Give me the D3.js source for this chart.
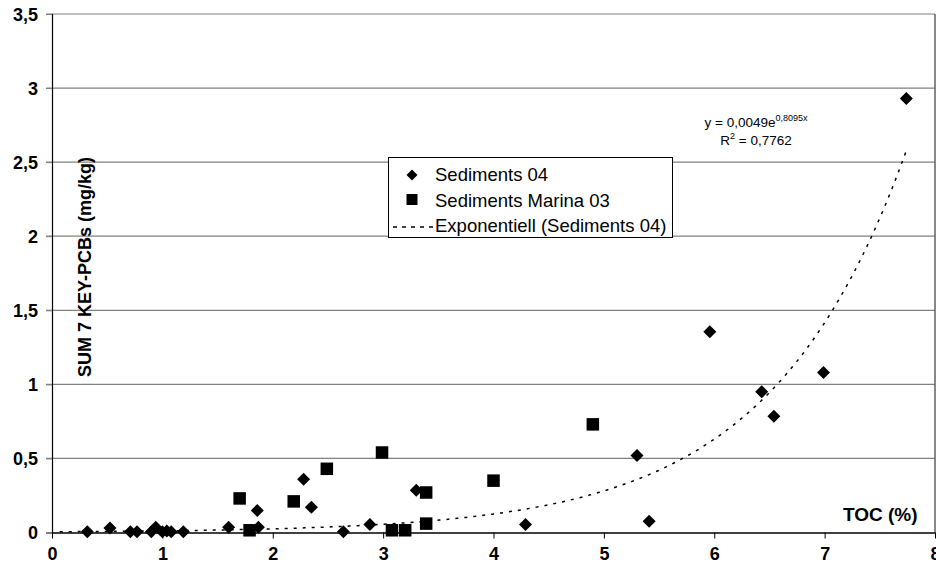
<!DOCTYPE html>
<html><head><meta charset="utf-8">
<script src="https://cdn.jsdelivr.net/npm/d3@7"></script>
<style>body{margin:0;background:#fff}svg{display:block}svg text{font-family:Arial,"Liberation Sans",sans-serif}</style>
</head><body>
<svg id="c" width="936" height="572"></svg>
<script>
const sed04X = [0.32,0.525,0.71,0.77,0.90,0.94,1.0,1.04,1.08,1.19,1.60,1.86,1.87,2.28,2.35,2.64,2.88,3.30,4.29,5.30,5.41,5.96,6.43,6.54,6.99,7.74];
const sed04Y = [0.005,0.03,0.005,0.005,0.005,0.035,0.005,0.01,0.005,0.005,0.035,0.148,0.035,0.36,0.17,0.005,0.054,0.285,0.054,0.52,0.076,1.355,0.95,0.785,1.08,2.93];
const marX = [1.70,1.79,2.19,2.49,2.99,3.08,3.20,3.39,3.39,4.00,4.90];
const marY = [0.23,0.015,0.21,0.43,0.54,0.015,0.015,0.27,0.06,0.35,0.73];
const trendA = 0.0049, trendB = 0.8095, trendRange = [0.07, 7.74];
const xTicks = [0,1,2,3,4,5,6,7,8];
const yTicks = [0,0.5,1,1.5,2,2.5,3,3.5];
const fmt = d => String(d).replace('.', ',');

const svg = d3.select('#c');
const L = 52, R = 935, T = 14, B = 532.5;
const x = d3.scaleLinear().domain([0,8]).range([L,R]);
const y = d3.scaleLinear().domain([0,3.5]).range([B,T]);
const FF = 'Arial, Liberation Sans, sans-serif';

// gridlines
svg.append('g').selectAll('line').data(yTicks.filter(d=>d>0)).join('line')
  .attr('x1',L-6).attr('x2',R).attr('y1',d=>y(d)).attr('y2',d=>y(d))
  .attr('stroke','#808080').attr('stroke-width',1.2);
// right border
svg.append('line').attr('x1',R).attr('x2',R).attr('y1',T).attr('y2',B).attr('stroke','#606060').attr('stroke-width',1.5);

// y axis
const ya = svg.append('g').attr('transform',`translate(${L},0)`)
  .call(d3.axisLeft(y).tickValues(yTicks).tickFormat(fmt).tickSize(6).tickPadding(8));
ya.select('.domain').attr('stroke','#000').attr('stroke-width',1.2);
ya.selectAll('.tick line').attr('stroke','#808080');
ya.selectAll('text').attr('font-size',18).attr('font-weight','bold').attr('fill','#000').attr('dy','0.35em').attr('font-family',FF);

// x axis
const xa = svg.append('g').attr('transform',`translate(0,${B})`)
  .call(d3.axisBottom(x).tickValues(xTicks).tickSize(6).tickSizeOuter(0).tickPadding(9));
xa.select('.domain').attr('stroke','#000').attr('stroke-width',1.5);
xa.selectAll('.tick line').attr('stroke','#000');
xa.selectAll('text').attr('font-size',18).attr('font-weight','bold').attr('fill','#000').attr('font-family',FF);

// trendline
const tr = d3.range(trendRange[0], trendRange[1]+0.0001, 0.02).map(v=>[v, trendA*Math.exp(trendB*v)]);
tr.push([trendRange[1], trendA*Math.exp(trendB*trendRange[1])]);
svg.append('path').datum(tr)
  .attr('d', d3.line().x(d=>x(d[0])).y(d=>y(d[1])))
  .attr('fill','none').attr('stroke','#000').attr('stroke-width',1.5).attr('stroke-dasharray','3,6');

// squares
const sq = 12.5;
svg.append('g').selectAll('rect').data(marX.map((v,i)=>[v,marY[i]])).join('rect')
  .attr('x',d=>x(d[0])-sq/2).attr('y',d=>y(d[1])-sq/2).attr('width',sq).attr('height',sq).attr('fill','#000');
// diamonds
const dm = 6.5;
svg.append('g').selectAll('path').data(sed04X.map((v,i)=>[v,sed04Y[i]])).join('path')
  .attr('d',d=>{const cx=x(d[0]),cy=y(d[1]);return `M${cx},${cy-dm}L${cx+dm},${cy}L${cx},${cy+dm}L${cx-dm},${cy}Z`;})
  .attr('fill','#000');

// legend
const lg = svg.append('g');
lg.append('rect').attr('x',388.5).attr('y',157.5).attr('width',284).attr('height',80).attr('fill','#fff').attr('stroke','#000').attr('stroke-width',1);
lg.append('path').attr('d','M412,169.5L417.5,175L412,180.5L406.5,175Z').attr('fill','#000');
lg.append('rect').attr('x',406.5).attr('y',194).attr('width',11).attr('height',11).attr('fill','#000');
lg.append('line').attr('x1',393).attr('x2',433).attr('y1',227).attr('y2',227).attr('stroke','#000').attr('stroke-width',1.5).attr('stroke-dasharray','4,5');
const lt = [['Sediments 04',181],['Sediments Marina 03',207],['Exponentiell (Sediments 04)',232]];
lg.selectAll('text.l').data(lt).join('text').attr('class','l').attr('x',435).attr('y',d=>d[1]).attr('font-size',18.5).text(d=>d[0]);

// equation
const eq = svg.append('text').attr('x',756).attr('y',127).attr('text-anchor','middle').attr('font-size',13.5);
eq.append('tspan').text('y = 0,0049e');
eq.append('tspan').attr('font-size',9).attr('dy',-6).text('0,8095x');
const r2 = svg.append('text').attr('x',756).attr('y',145).attr('text-anchor','middle').attr('font-size',13.5);
r2.append('tspan').text('R');
r2.append('tspan').attr('font-size',9).attr('dy',-6).text('2');
r2.append('tspan').attr('dy',6).text(' = 0,7762');

// axis titles
svg.append('text').attr('transform','translate(91,267) rotate(-90)').attr('text-anchor','middle')
  .attr('font-size',18).attr('font-weight','bold').text('SUM 7 KEY-PCBs (mg/kg)');
svg.append('text').attr('x',843).attr('y',521).attr('font-size',19).attr('font-weight','bold').text('TOC (%)');
</script>
</body></html>
